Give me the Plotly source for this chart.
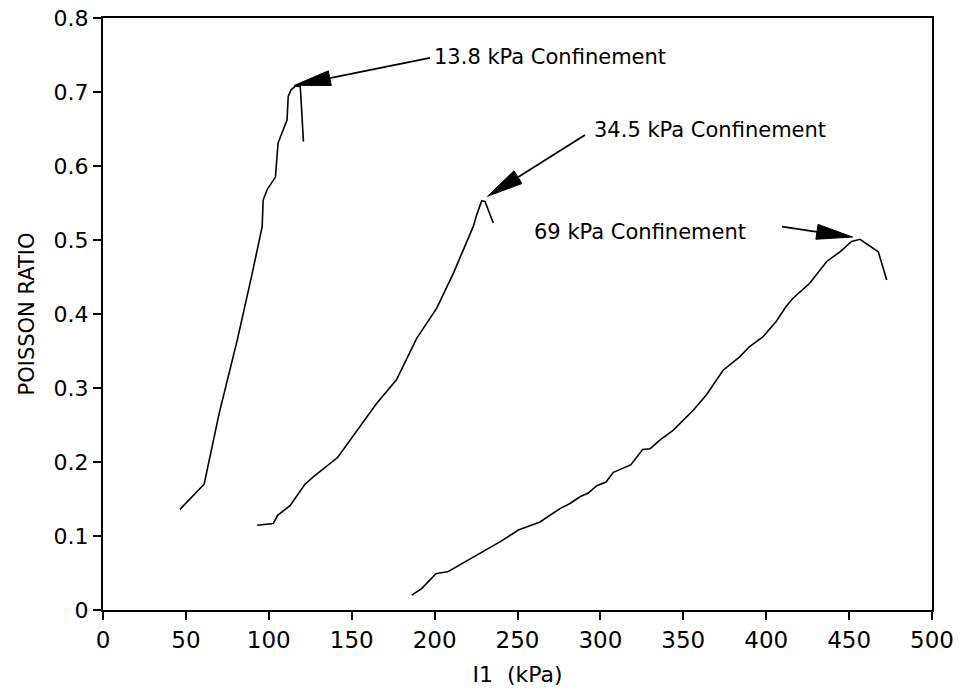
import math
import plotly.graph_objects as go

# Data
i1_13_8 = [46.4, 61.0, 70.0, 81.0, 90.0, 96.0, 96.6, 99.0, 104.0, 105.6, 108.0, 111.0, 111.7, 113.5, 116.0, 119.0, 120.9]
nu_13_8 = [0.136, 0.170, 0.265, 0.365, 0.455, 0.518, 0.554, 0.568, 0.585, 0.631, 0.645, 0.662, 0.694, 0.703, 0.708, 0.707, 0.633]

i1_34_5 = [93.0, 102.7, 105.3, 112.8, 121.8, 126.8, 141.5, 155.0, 165.0, 177.0, 189.2, 201.3, 211.3, 223.3, 225.4, 228.4, 230.4, 235.4]
nu_34_5 = [0.1145, 0.117, 0.128, 0.141, 0.170, 0.180, 0.206, 0.248, 0.279, 0.311, 0.367, 0.408, 0.455, 0.518, 0.534, 0.553, 0.552, 0.523]

i1_69 = [186.2, 192.2, 200.8, 208.3, 218.3, 227.4, 239.4, 250.5, 263.6, 275.6, 281.7, 287.7, 292.7, 297.8, 303.4,
         307.8, 311.8, 318.3, 325.5, 330.0, 336.0, 344.0, 356.0, 364.0, 374.0, 384.0, 390.0, 398.0, 406.0, 412.0,
         416.0, 426.0, 436.5, 444.5, 451.5, 456.6, 467.6, 472.7]
nu_69 = [0.020, 0.029, 0.049, 0.052, 0.065, 0.077, 0.092, 0.108, 0.119, 0.137, 0.144, 0.153, 0.158, 0.168, 0.173,
         0.186, 0.190, 0.196, 0.217, 0.218, 0.230, 0.243, 0.270, 0.291, 0.324, 0.342, 0.356, 0.369, 0.390, 0.410,
         0.421, 0.441, 0.471, 0.484, 0.498, 0.501, 0.484, 0.446]

labels = ["13.8 kPa Confinement", "34.5 kPa Confinement", "69 kPa Confinement"]
x_ticks = [0, 50, 100, 150, 200, 250, 300, 350, 400, 450, 500]
y_ticks = [0, 0.1, 0.2, 0.3, 0.4, 0.5, 0.6, 0.7, 0.8]
y_tick_text = ["0", "0.1", "0.2", "0.3", "0.4", "0.5", "0.6", "0.7", "0.8"]

FONT = "DejaVu Sans"
W, H = 962, 690
ML, MR, MT, MB = 103, 30, 18, 80
XR = [0, 500]
YR = [0, 0.8]
px_x = (W - ML - MR) / (XR[1] - XR[0])
px_y = (H - MT - MB) / (YR[1] - YR[0])

fig = go.Figure()
for xs, ys, name in [(i1_13_8, nu_13_8, labels[0]), (i1_34_5, nu_34_5, labels[1]), (i1_69, nu_69, labels[2])]:
    fig.add_trace(go.Scatter(x=xs, y=ys, mode="lines", name=name,
                             line=dict(color="black", width=1.6), showlegend=False))

def peak(xs, ys):
    k = ys.index(max(ys))
    return xs[k], ys[k]

p1 = peak(i1_13_8, nu_13_8)
p2 = peak(i1_34_5, nu_34_5)
p3 = peak(i1_69, nu_69)

# (tip x, tip y, tail x, tail y)
arrows = [
    (p1[0] - 0.5, p1[1] + 0.001, 197.2, 0.746),
    (p2[0] + 3.5, p2[1] + 0.006, 290.7, 0.642),
    (p3[0] - 4.5, p3[1] + 0.003, 409.5, 0.518),
]
texts = [
    (198.4, 0.747, labels[0]),
    (295.0, 0.649, labels[1]),
    (258.7, 0.511, labels[2]),
]

shapes = []
HEAD_L, HEAD_W = 36.0, 15.0
for tx, ty, axv, ayv in arrows:
    TX, TY = tx * px_x, ty * px_y
    AX, AY = axv * px_x, ayv * px_y
    dx, dy = TX - AX, TY - AY
    n = math.hypot(dx, dy)
    ux, uy = dx / n, dy / n
    bx, by = TX - ux * HEAD_L, TY - uy * HEAD_L
    nx, ny = -uy, ux
    p_a = (bx + nx * HEAD_W / 2, by + ny * HEAD_W / 2)
    p_b = (bx - nx * HEAD_W / 2, by - ny * HEAD_W / 2)
    shapes.append(dict(type="line", xref="x", yref="y", x0=axv, y0=ayv, x1=bx / px_x, y1=by / px_y,
                       line=dict(color="black", width=1.8)))
    path = "M {:.4f},{:.5f} L {:.4f},{:.5f} L {:.4f},{:.5f} Z".format(
        TX / px_x, TY / px_y, p_a[0] / px_x, p_a[1] / px_y, p_b[0] / px_x, p_b[1] / px_y)
    shapes.append(dict(type="path", xref="x", yref="y", path=path, fillcolor="black",
                       line=dict(color="black", width=1)))

annotations = []
for tx, ty, t in texts:
    annotations.append(dict(x=tx, y=ty, xref="x", yref="y", text=t, showarrow=False,
                            xanchor="left", yanchor="middle",
                            font=dict(family=FONT, size=21, color="black")))

fig.update_layout(
    width=W, height=H,
    margin=dict(l=ML, r=MR, t=MT, b=MB, autoexpand=False),
    paper_bgcolor="white", plot_bgcolor="white",
    annotations=annotations, shapes=shapes,
    xaxis=dict(range=XR, tickvals=x_ticks, ticks="outside", ticklen=8, tickwidth=1.5,
               tickcolor="black", showgrid=False, zeroline=False, showline=True, linecolor="black",
               linewidth=2, mirror=True, automargin=False,
               tickfont=dict(family=FONT, size=23, color="black"),
               title=dict(text="I1  (kPa)", font=dict(family=FONT, size=22, color="black"), standoff=15)),
    yaxis=dict(range=YR, tickvals=y_ticks, ticktext=y_tick_text, ticks="outside", ticklen=8,
               tickwidth=1.5, tickcolor="black", showgrid=False, zeroline=False, showline=True,
               linecolor="black", linewidth=2, mirror=True, automargin=False,
               tickfont=dict(family=FONT, size=22, color="black"),
               title=dict(text="POISSON RATIO", font=dict(family=FONT, size=21, color="black"), standoff=13)),
)

fig.write_html("out.html")
